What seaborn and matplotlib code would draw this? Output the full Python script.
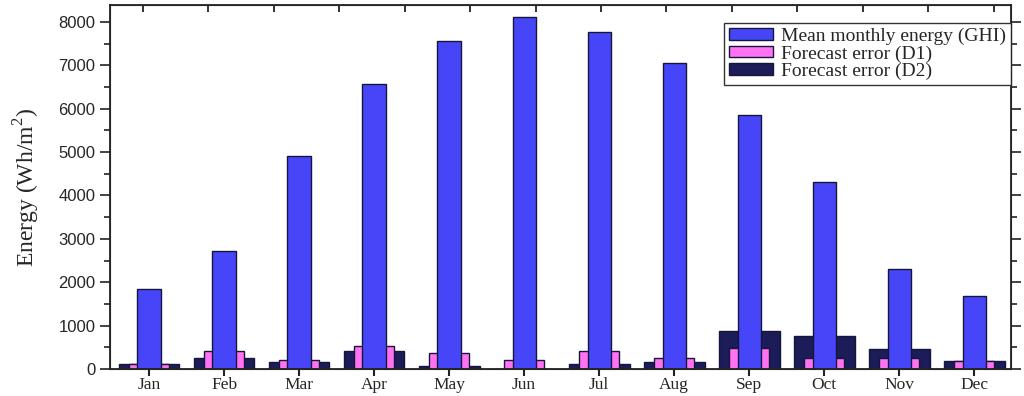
import numpy as np
import matplotlib.pyplot as plt
import seaborn as sns

months = ['Jan', 'Feb', 'Mar', 'Apr', 'May', 'Jun',
          'Jul', 'Aug', 'Sep', 'Oct', 'Nov', 'Dec']
ghi = [1850, 2710, 4920, 6580, 7555, 8115, 7780, 7060, 5845, 4320, 2310, 1690]
err_d1 = [120, 410, 210, 540, 360, 210, 415, 255, 480, 260, 260, 185]
err_d2 = [105, 260, 170, 410, 70, 10, 110, 155, 885, 770, 455, 185]

sns.set_style('ticks')
plt.rcParams['font.family'] = ['Liberation Serif', 'DejaVu Serif']
plt.rcParams['mathtext.fontset'] = 'custom'
plt.rcParams['mathtext.rm'] = 'Liberation Serif'

fig = plt.figure(figsize=(10.24, 3.96), dpi=100)
ax = fig.add_axes([0.1074, 0.0682, 0.880, 0.919])

edge = '#16163a'
# widest bar at the back, narrowest in front
sns.barplot(x=months, y=err_d2, width=0.81, color='#1c1c58', edgecolor=edge,
            linewidth=1, saturation=1, label='Forecast error (D2)', ax=ax)
sns.barplot(x=months, y=err_d1, width=0.53, color='#ff72f2', edgecolor=edge,
            linewidth=1, saturation=1, label='Forecast error (D1)', ax=ax)
sns.barplot(x=months, y=ghi, width=0.31, color='#4646f8', edgecolor=edge,
            linewidth=1, saturation=1, label='Mean monthly energy (GHI)', ax=ax)

ax.set_xlim(-0.52, 11.49)
ax.set_ylim(0, 8390)
ax.set_yticks(np.arange(0, 8001, 1000))
ax.set_yticks(np.arange(500, 8001, 1000), minor=True)
ax.tick_params(axis='y', which='both', direction='out', right=True,
               labelsize=12, width=1.2, color='#222222')
ax.tick_params(axis='y', which='major', length=7)
ax.tick_params(axis='y', which='minor', length=4)
ax.tick_params(axis='x', direction='out', length=5, width=1.5, labelsize=12.5,
               pad=1, color='#222222')
for lab in ax.get_yticklabels():
    lab.set_family('Liberation Sans')
for s in ax.spines.values():
    s.set_visible(True)
    s.set_linewidth(1.3)
    s.set_color('#222222')

ax.set_xlabel('')
ax.set_ylabel('Energy (Wh/m$^2$)', fontsize=17, labelpad=12)

# top axis ticks (no labels)
top = ax.twiny()
top.set_xlim(ax.get_xlim())
top.set_xticks(-0.08 + 0.872 * np.arange(14))
top.tick_params(axis='x', direction='in', length=5, width=1.3,
                labeltop=False, color='#222222')

h, l = ax.get_legend_handles_labels()
leg = ax.legend(h[::-1], l[::-1], loc='upper right', bbox_to_anchor=(1.0, 0.9505),
                borderaxespad=0, fancybox=False, framealpha=1, fontsize=14,
                handlelength=2.3, handleheight=0.55, handletextpad=0.4,
                labelspacing=0.0, borderpad=0.25, edgecolor='#333333')
leg.get_frame().set_linewidth(1)

plt.savefig('out.png', dpi=100)
